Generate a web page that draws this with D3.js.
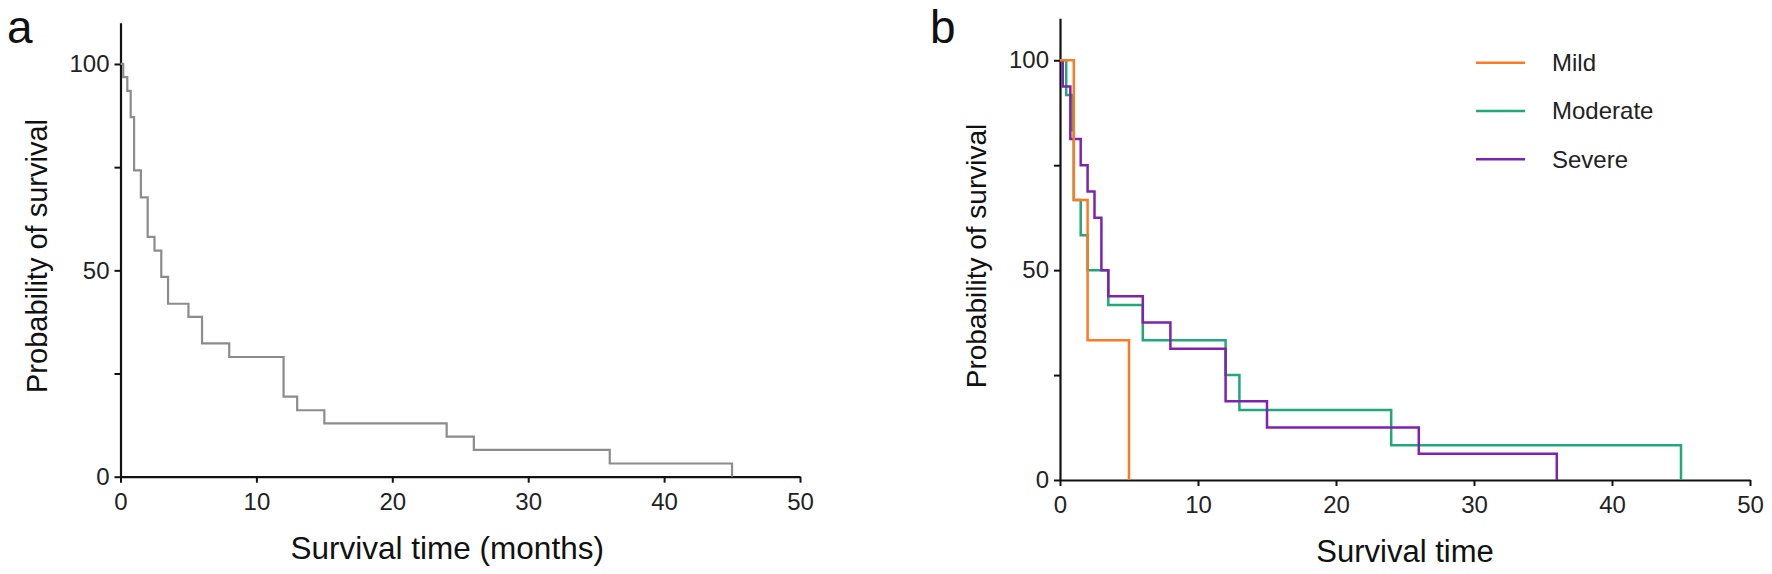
<!DOCTYPE html>
<html>
<head>
<meta charset="utf-8">
<script src="https://cdn.jsdelivr.net/npm/d3@7"></script>
<style>
  body { margin: 0; background: #fff; }
  svg { font-family: "Liberation Sans", Arial, sans-serif; }
</style>
</head>
<body>
<svg id="chart" width="1772" height="574"></svg>
<script>
// panel a: all patients
var allTimes = [0, 0.2, 0.5, 0.75, 1, 1.5, 2, 2.5, 3, 3.5, 5, 6, 8, 12, 13, 15, 24, 26, 36, 45];
var allSurv  = [100, 96.8, 93.5, 87.1, 74.2, 67.7, 58.1, 54.8, 48.4, 41.9, 38.7, 32.3, 29.0, 19.4, 16.1, 12.9, 9.7, 6.5, 3.2, 0];

// panel b: by severity
var mildTimes = [0, 1, 2, 5];
var mildSurv  = [100, 66.7, 33.3, 0];
var modTimes  = [0, 0.45, 0.9, 1, 1.5, 2, 3.5, 6, 12, 13, 24, 45];
var modSurv   = [100, 91.7, 83.3, 66.7, 58.3, 50, 41.7, 33.3, 25, 16.7, 8.3, 0];
var sevTimes  = [0, 0.2, 0.75, 1.5, 2, 2.5, 3, 3.5, 6, 8, 12, 15, 26, 36];
var sevSurv   = [100, 93.75, 81.25, 75, 68.75, 62.5, 50, 43.75, 37.5, 31.25, 18.75, 12.5, 6.25, 0];

var groups = ["Mild", "Moderate", "Severe"];
var xTicks = [0, 10, 20, 30, 40, 50];
var yTicks = [0, 25, 50, 75, 100];
var yLabels = [0, 50, 100];

var svg = d3.select("#chart");

function zip(t, s) {
    return t.map(function (d, i) { return { t: d, s: s[i] }; });
}

function makePanel(opt) {
    var g = svg.append("g")
        .attr("transform", "translate(" + opt.left + "," + opt.top + ")");
    var x = d3.scaleLinear().domain([0, 50]).range([0, opt.w]);
    var y = d3.scaleLinear().domain([0, 110]).range([opt.h, 0]);

    var xaxis = d3.axisBottom(x).tickValues(xTicks).tickSize(6).tickSizeOuter(0).tickPadding(10);
    var yaxis = d3.axisLeft(y).tickValues(yTicks).tickSize(6).tickSizeOuter(0).tickPadding(5)
        .tickFormat(function (d) { return yLabels.indexOf(d) >= 0 ? d : ""; });

    var gx = g.append("g").attr("transform", "translate(0," + opt.h + ")").call(xaxis);
    var gy = g.append("g").call(yaxis);
    [gx, gy].forEach(function (a) {
        a.select(".domain").attr("stroke", "#111").attr("stroke-width", 2.2);
        a.selectAll(".tick line").attr("stroke", "#111").attr("stroke-width", 2);
        a.selectAll(".tick text").attr("font-size", 24).attr("fill", "#222")
            .attr("font-family", "Liberation Sans, Arial, sans-serif");
    });

    var line = d3.line()
        .x(function (d) { return x(d.t); })
        .y(function (d) { return y(d.s); })
        .curve(d3.curveStepAfter);

    opt.series.forEach(function (s) {
        g.append("path")
            .datum(s.data)
            .attr("d", line)
            .attr("fill", "none")
            .attr("stroke", s.color)
            .attr("stroke-width", s.width);
    });

    // axis titles
    g.append("text")
        .attr("x", opt.w / 2 + opt.xshift)
        .attr("y", opt.h + 82)
        .attr("text-anchor", "middle")
        .attr("font-size", opt.xsize)
        .attr("fill", "#111")
        .text(opt.xtitle);
    g.append("text")
        .attr("transform", "translate(" + (-74) + "," + (256 - opt.top) + ") rotate(-90)")
        .attr("text-anchor", "middle")
        .attr("font-size", opt.ysize)
        .attr("fill", "#111")
        .text("Probability of survival");
    // panel letter
    svg.append("text")
        .attr("x", opt.letterX)
        .attr("y", 43)
        .attr("font-size", 46)
        .attr("fill", "#111")
        .text(opt.letter);
    return { g: g, x: x, y: y };
}

makePanel({
    left: 120.5, top: 22.7, w: 679.5, h: 454,
    xtitle: "Survival time (months)", xsize: 31.5, xshift: -13, ysize: 29, letter: "a", letterX: 7,
    series: [{ data: zip(allTimes, allSurv), color: "#8c8c8c", width: 2.2 }]
});

var colors = ["#fb7a22", "#21a87a", "#7e22b0"];
var pb = makePanel({
    left: 1060, top: 18.3, w: 690, h: 461.7,
    xtitle: "Survival time", xsize: 31, xshift: 0, ysize: 28, letter: "b", letterX: 930,
    series: [
        { data: zip(modTimes, modSurv), color: colors[1], width: 2.5 },
        { data: zip(sevTimes, sevSurv), color: colors[2], width: 2.5 },
        { data: zip(mildTimes, mildSurv), color: colors[0], width: 2.5 }
    ]
});

// legend
var legend = svg.append("g").attr("transform", "translate(1476,62.7)");
groups.forEach(function (name, i) {
    var row = legend.append("g").attr("transform", "translate(0," + (i * 48.3) + ")");
    row.append("line")
        .attr("x1", 0).attr("x2", 49)
        .attr("stroke", colors[i]).attr("stroke-width", 2.5);
    row.append("text")
        .attr("x", 76).attr("y", 0).attr("dy", "0.35em")
        .attr("font-size", 24).attr("fill", "#222")
        .text(name);
});
</script>
</body>
</html>
